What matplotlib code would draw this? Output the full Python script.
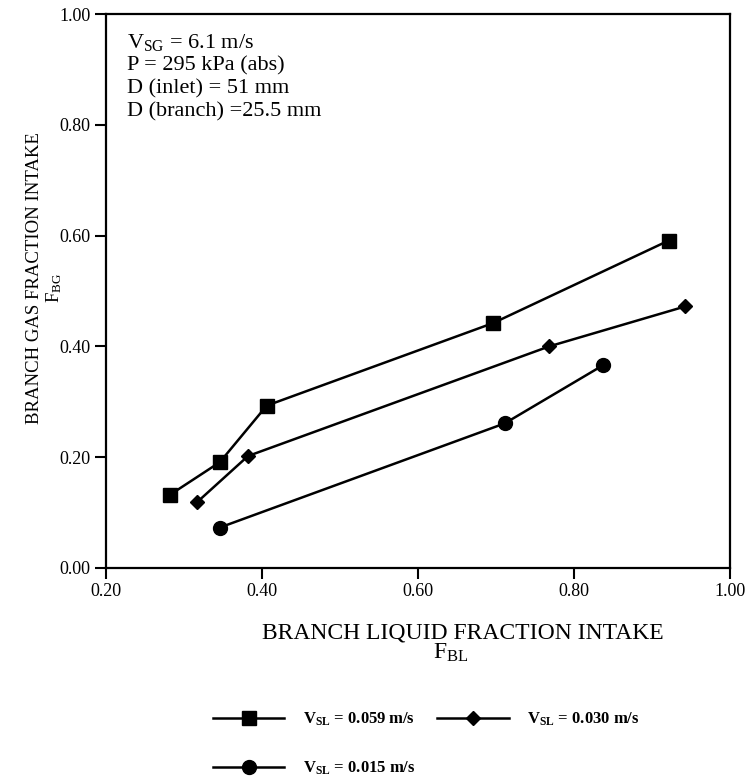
import matplotlib
matplotlib.use("Agg")
import matplotlib.pyplot as plt

plt.rcParams['font.family'] = ['Liberation Serif', 'DejaVu Serif']
plt.rcParams['mathtext.fontset'] = 'custom'
plt.rcParams['mathtext.rm'] = 'Liberation Serif'
plt.rcParams['mathtext.it'] = 'Liberation Serif'

# data: F_BL (x) vs F_BG (y)
x_059 = [0.282, 0.346, 0.406, 0.696, 0.921]
y_059 = [0.132, 0.191, 0.293, 0.442, 0.591]
x_030 = [0.317, 0.382, 0.768, 0.942]
y_030 = [0.119, 0.202, 0.400, 0.472]
x_015 = [0.346, 0.711, 0.837]
y_015 = [0.073, 0.261, 0.366]

labels = [r"V$_{\mathregular{SL}}$ = 0.059 m/s",
          r"V$_{\mathregular{SL}}$ = 0.030 m/s",
          r"V$_{\mathregular{SL}}$ = 0.015 m/s"]

fig = plt.figure(figsize=(7.46, 7.78), dpi=100)
ax = fig.add_axes([0.142, 0.270, 0.837, 0.712])

l1, = ax.plot(x_059, y_059, color='black', lw=1.8, marker='s', ms=10, label=labels[0])
l2, = ax.plot(x_030, y_030, color='black', lw=1.8, marker='D', ms=7.5, label=labels[1])
l3, = ax.plot(x_015, y_015, color='black', lw=1.8, marker='o', ms=10, label=labels[2])

ax.set_xlim(0.2, 1.0)
ax.set_ylim(0.0, 1.0)
ax.set_xticks([0.2, 0.4, 0.6, 0.8, 1.0])
ax.set_yticks([0.0, 0.2, 0.4, 0.6, 0.8, 1.0])
ax.set_xticklabels(["0.20", "0.40", "0.60", "0.80", "1.00"])
ax.set_yticklabels(["0.00", "0.20", "0.40", "0.60", "0.80", "1.00"])
ax.tick_params(direction='out', length=8, width=1.5, labelsize=13, pad=3)
for s in ax.spines.values():
    s.set_linewidth(1.6)

ax.text(0.033, 0.968,
        "V$_{\\mathrm{SG}}$ = 6.1 m/s\nP = 295 kPa (abs)\nD (inlet) = 51 mm\nD (branch) =25.5 mm",
        transform=ax.transAxes, fontsize=16, va='top', ha='left', linespacing=1.25)

fig.text(0.62, 0.186, "BRANCH LIQUID FRACTION INTAKE", ha='center', va='center', fontsize=17)
fig.text(0.604, 0.161, "F$_{\\mathrm{BL}}$", ha='center', va='center', fontsize=17)
fig.text(0.046, 0.643, "BRANCH GAS FRACTION INTAKE", ha='center', va='center',
         fontsize=13.5, rotation=90)
fig.text(0.073, 0.63, "F$_{\\mathrm{BG}}$", ha='center', va='center', fontsize=13.5, rotation=90)

leg = fig.legend([l1, l3, l2], [labels[0], labels[2], labels[1]], ncol=2,
                 loc='upper left', bbox_to_anchor=(0.265, 0.106), frameon=False,
                 handlelength=4.3, handletextpad=1.1, columnspacing=1.3,
                 labelspacing=1.9, prop={'size': 12, 'weight': 'bold'})

fig.savefig("out.png", dpi=100)
